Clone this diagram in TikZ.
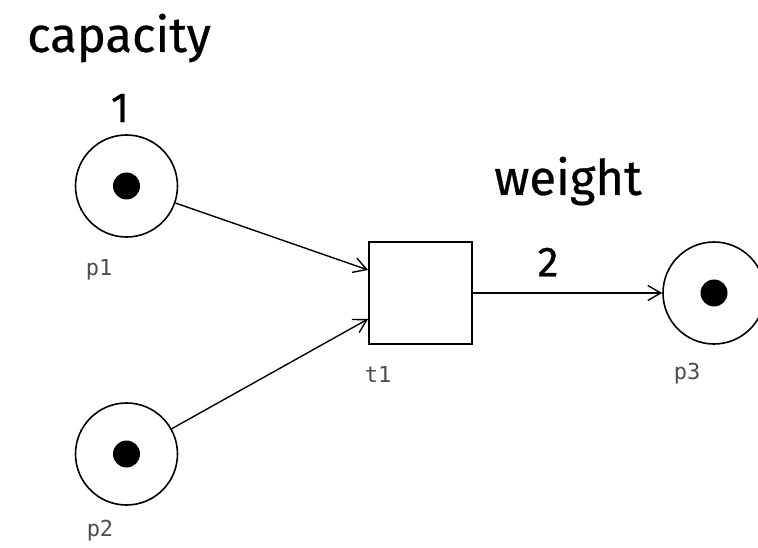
\documentclass[tikz,border=0pt]{standalone}
\usepackage{fontspec}
\setmainfont{Fira Sans}
\newfontfamily\bigfont{Fira Sans}[FakeBold=0.6]
\newfontfamily\labfont{DejaVu Sans Mono}
\usetikzlibrary{arrows.meta}
\begin{document}
\begin{tikzpicture}[x=1pt,y=-1pt,
  place/.style={circle,draw,line width=1.6pt,minimum size=102pt,inner sep=0pt},
  trans/.style={rectangle,draw,line width=1.8pt,minimum width=103pt,minimum height=102pt,inner sep=0pt},
  token/.style={circle,fill=black,minimum size=27pt,inner sep=0pt},
  lab/.style={font=\labfont\fontsize{22}{24}\selectfont,text=black!70},
  big/.style={font=\bigfont\fontsize{49}{55}\selectfont},
  num/.style={font=\bigfont\fontsize{42}{48}\selectfont},
  arc/.style={line width=1.4pt,-{Straight Barb[length=13pt,width=15pt,line width=1.4pt]}}]
\useasboundingbox (0,0) rectangle (758,548);
\node[place] (p1) at (126.5,186) {};
\node[token] (k1) at (126.5,186) {};
\node[place] (p2) at (126.5,454) {};
\node[token] (k2) at (126.5,454) {};
\node[trans] (t1) at (420.5,293) {};
\node[place] (p3) at (714,293) {};
\node[token] (k3) at (714,293) {};
\node[lab] (lp1) at (99,270) {p1};
\node[lab] (lp2) at (100,531) {p2};
\node[lab] (lt1) at (378,374) {t1};
\node[lab] (lp3) at (687,374) {p3};
\node[big] (cap) at (119,38) {capacity};
\node[num] (one) at (120,108) {1};
\node[big] (w) at (568,181) {weight};
\node[num] (two) at (548,262) {2};
\coordinate (a1) at ([yshift=23pt]t1.west);
\coordinate (a2) at ([yshift=-26pt]t1.west);
\draw[arc] (p1) -- (a1);
\draw[arc] (p2) -- (a2);
\draw[arc] (t1) -- (p3);
\end{tikzpicture}
\end{document}
